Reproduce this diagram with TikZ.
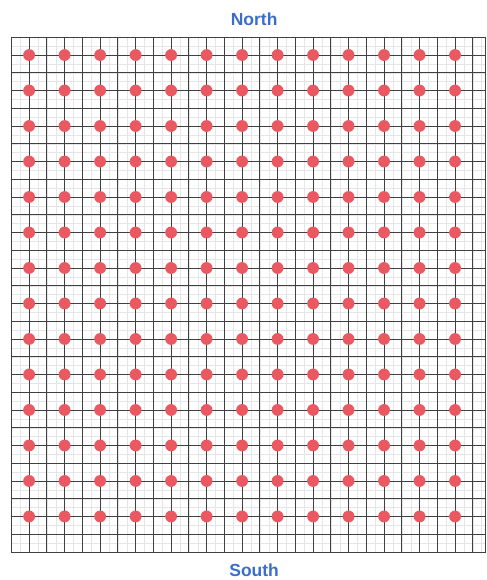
\documentclass[tikz,border=0pt]{standalone}
\usepackage{fontspec}
\setsansfont{Liberation Sans}
\usetikzlibrary{positioning}
\definecolor{labelblue}{RGB}{58,110,200}
\definecolor{dotred}{RGB}{234,88,98}
\tikzset{
  fineline/.style={draw=black!10, line width=0.3pt},
  gridline/.style={draw=black!75, line width=0.7pt},
  site/.style={circle, fill=dotred, inner sep=0pt, minimum size=9.5pt},
  compass/.style={font=\sffamily\bfseries\fontsize{14}{16}\selectfont, text=labelblue}
}
\begin{document}
\begin{tikzpicture}
        \useasboundingbox (-0.82,-14.79) rectangle (12.90,1.55);
        % sheet of squared paper
        \draw[fineline, step=0.25] (-0.5,-14) grid (12.85,0.5);
        \draw[gridline, step=0.5] (-0.5,-14) grid (12.85,0.5);
        \draw[gridline] (-0.5,-14) rectangle (12.85,0.5);
        % sites
        \foreach \i in {0,...,12}
            \foreach \j in {0,...,13}
                \node[site] (s-\i-\j) at (\i,-\j) {};
        \node[compass] (north) at (6.34,1.01) {North};
        \node[compass] (south) at (6.34,-14.51) {South};
    \end{tikzpicture}
\end{document}
